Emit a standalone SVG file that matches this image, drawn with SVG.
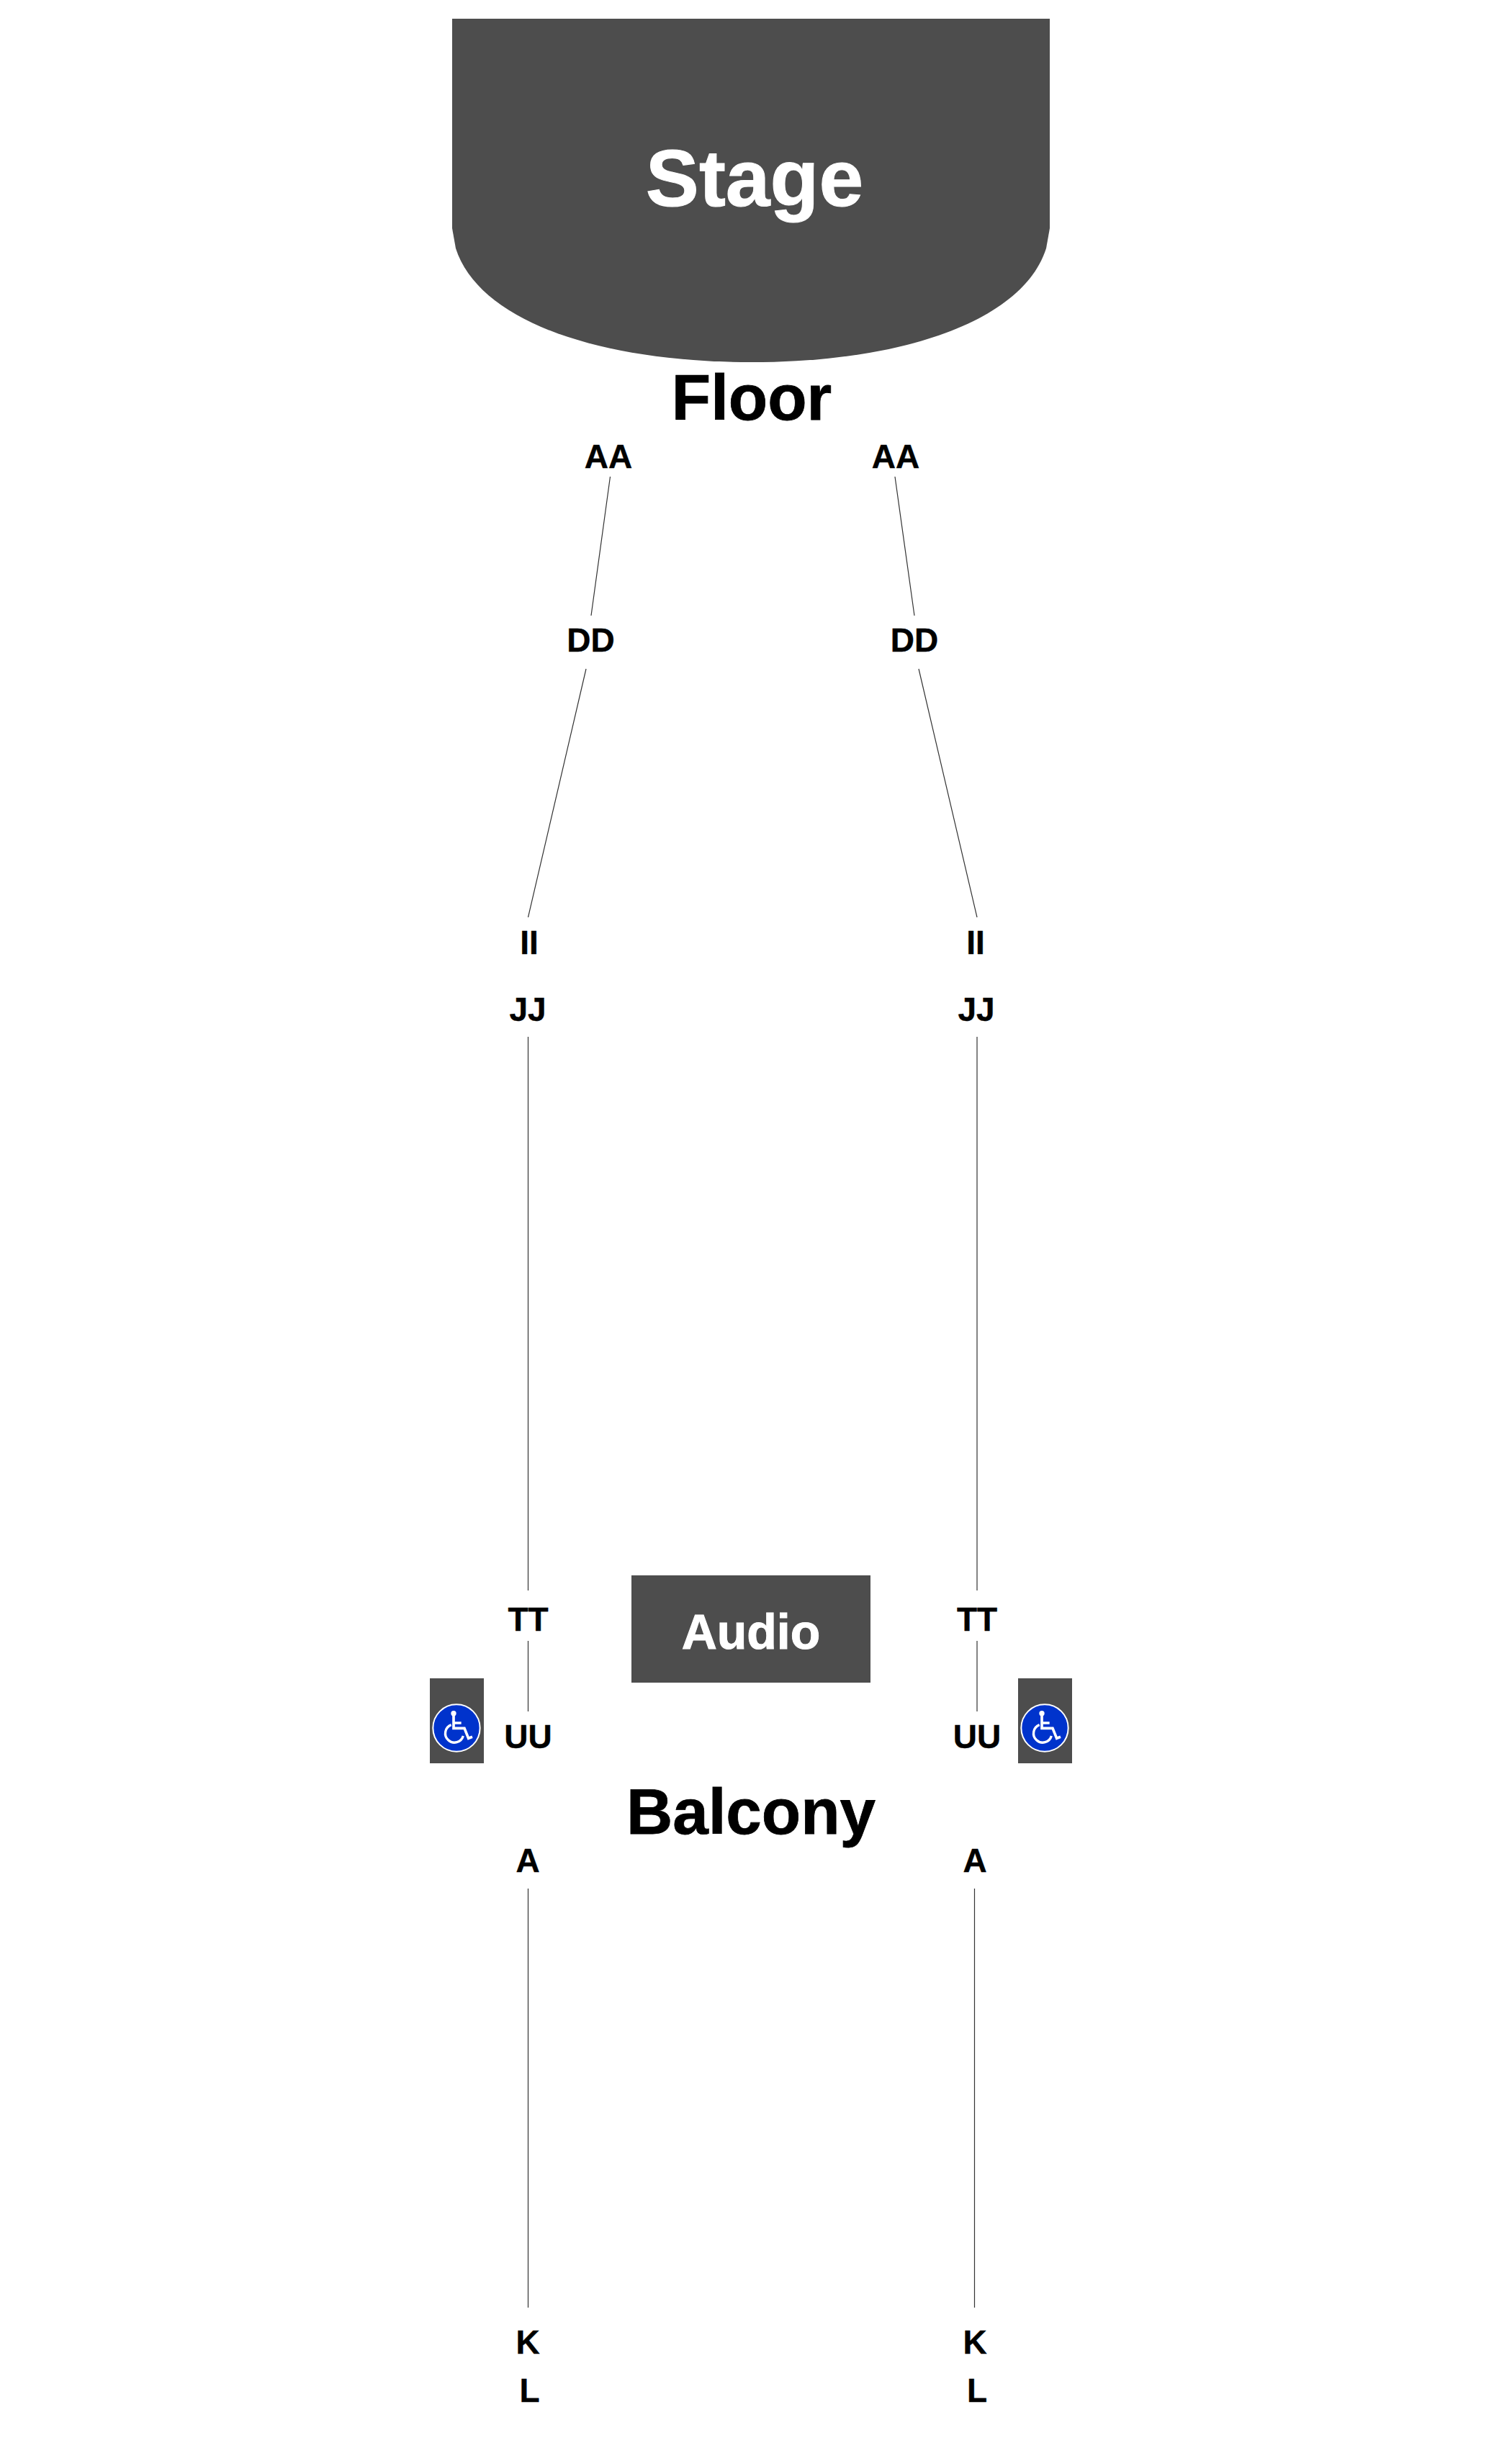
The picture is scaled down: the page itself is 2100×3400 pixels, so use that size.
<svg xmlns="http://www.w3.org/2000/svg" width="2100" height="3400" viewBox="0 0 2100 3400">
<style>
text{font-family:"Liberation Sans",Arial,sans-serif;font-weight:700;text-anchor:middle}
.row{font-size:46px;fill:#000;stroke:#000;stroke-width:.4}
.sec{font-size:89px;fill:#000;stroke:#000;stroke-width:.8}
.lbl{fill:#fff;stroke:#fff;stroke-width:1}
.blk{fill:#4d4d4d}
.ln{stroke:#333;stroke-width:1.2;fill:none}
.wh{fill:none;stroke:#fff;stroke-linejoin:miter}
</style>
<defs>
<g id="wc">
<circle cx="132" cy="179" r="98" fill="#0033cc" stroke="#fff" stroke-width="6"/>
<circle cx="120" cy="118" r="11" fill="#fff"/>
<path class="wh" style="stroke-width:11" d="M120 122V180H165L182 222L198 216M120 158H152"/>
<path class="wh" style="stroke-width:10" d="M110 166A38 38 0 1 0 160 212"/>
</g>
</defs>
<rect width="2100" height="3400" fill="#fff"/>
<g id="stage">
<path class="blk" d="M628 26H1458V317L1453 345C1421 445 1256 503 1043 503C830 503 665 445 633 345L628 317Z"/>
<text class="lbl" x="1048" y="286" font-size="111">Stage</text>
</g>
<g id="audio">
<rect class="blk" x="877" y="2188" width="332" height="149"/>
<text class="lbl" x="1043" y="2290" font-size="68">Audio</text>
</g>
<g id="wheelchair-left">
<rect class="blk" x="597" y="2331" width="75" height="118"/>
<use href="#wc" transform="translate(634 2400) scale(.3333) translate(-132 -179)"/>
</g>
<g id="wheelchair-right">
<rect class="blk" x="1414" y="2331" width="75" height="118"/>
<use href="#wc" transform="translate(1451 2400) scale(.3333) translate(-132 -179)"/>
</g>
<g id="connectors">
<path class="ln" d="M847.500 662L821 855M814 929L733.500 1274M733.500 1440V2209M733.500 2279V2377M733.500 2623V3205"/>
<path class="ln" d="M1243 662L1270 855M1276 929L1357 1274M1357 1440V2209M1357 2279V2377M1353.500 2623V3205"/>
</g>
<g id="section-floor"><text class="sec" x="1044" y="583">Floor</text></g>
<g id="section-balcony"><text class="sec" x="1043" y="2547">Balcony</text></g>
<g id="rows-left">
<text class="row" x="845" y="650">AA</text>
<text class="row" x="820.500" y="905">DD</text>
<text class="row" x="735" y="1325">II</text>
<text class="row" x="733" y="1418">JJ</text>
<text class="row" x="733.500" y="2265">TT</text>
<text class="row" x="733.500" y="2428">UU</text>
<text class="row" x="733" y="2600">A</text>
<text class="row" x="733" y="3269">K</text>
<text class="row" x="735.500" y="3336">L</text>
</g>
<g id="rows-right">
<text class="row" x="1244" y="650">AA</text>
<text class="row" x="1270" y="905">DD</text>
<text class="row" x="1355" y="1325">II</text>
<text class="row" x="1356" y="1418">JJ</text>
<text class="row" x="1357" y="2265">TT</text>
<text class="row" x="1357" y="2428">UU</text>
<text class="row" x="1354" y="2600">A</text>
<text class="row" x="1354" y="3269">K</text>
<text class="row" x="1357" y="3336">L</text>
</g>
</svg>
